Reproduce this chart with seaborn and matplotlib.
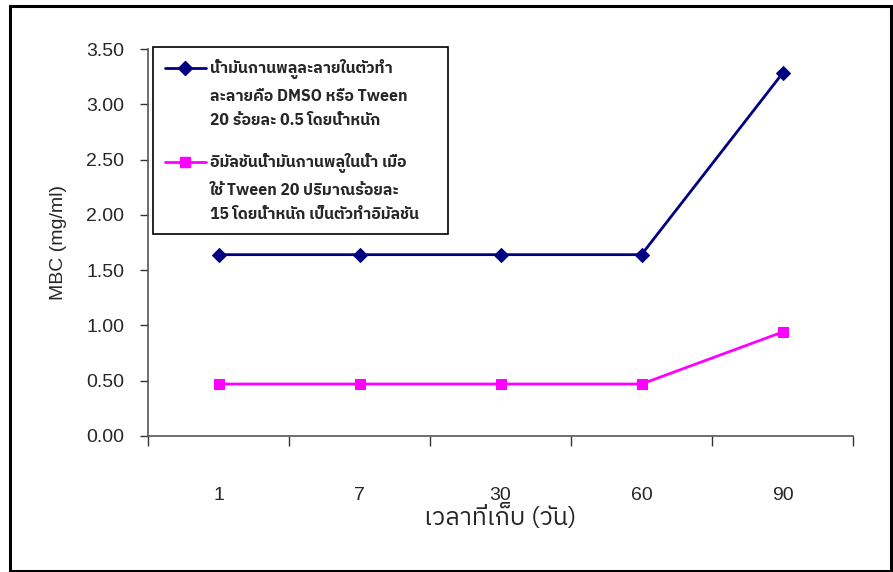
import matplotlib
matplotlib.use("Agg")
import matplotlib.pyplot as plt
from matplotlib import font_manager
from matplotlib.lines import Line2D
from matplotlib.patches import Rectangle
from matplotlib.ticker import FixedLocator, FormatStrFormatter
import seaborn as sns
import pandas as pd

# storage time (days) and MBC values
days = ["1", "7", "30", "60", "90"]
mbc_dmso = [1.64, 1.64, 1.64, 1.64, 3.28]
mbc_emulsion = [0.47, 0.47, 0.47, 0.47, 0.94]

label_dmso = ["น้ำมันกานพลูละลายในตัวทำ", "ละลายคือ DMSO หรือ Tween", "20 ร้อยละ 0.5 โดยน้ำหนัก"]
label_emulsion = ["อิมัลชันน้ำมันกานพลูในน้ำ เมื่อ", "ใช้ Tween 20 ปริมาณร้อยละ", "15 โดยน้ำหนัก เป็นตัวทำอิมัลชัน"]
y_label = "MBC (mg/ml)"
x_label = "เวลาที่เก็บ (วัน)"
y_ticks = [0.0, 0.5, 1.0, 1.5, 2.0, 2.5, 3.0, 3.5]


def thai_family(fallback="DejaVu Sans"):
    """Return the first installed family that has Thai glyphs."""
    try:
        from fontTools.ttLib import TTFont
    except Exception:
        return fallback
    names = sorted({(f.name, f.fname) for f in font_manager.fontManager.ttflist},
                   key=lambda t: ("Thai" not in t[0], t[0]))
    for name, path in names:
        try:
            font = TTFont(path, fontNumber=0, lazy=True)
            cmap = font.getBestCmap() or {}
        except Exception:
            continue
        if 0x0E01 in cmap and 0x0E49 in cmap:
            return name
    return fallback


def has_family(name):
    return any(f.name == name for f in font_manager.fontManager.ttflist)


sns.set_theme(style="white")
thai = thai_family()
plt.rcParams["font.family"] = ["Liberation Sans", thai, "DejaVu Sans"]
narrow = "Liberation Sans Narrow" if has_family("Liberation Sans Narrow") else "Liberation Sans"

df = pd.DataFrame({"day": days, "dmso": mbc_dmso, "emulsion": mbc_emulsion})

fig = plt.figure(figsize=(8.93, 5.72), dpi=100)
ax = fig.add_axes([148 / 893, 1 - 436 / 572, 705 / 893, 387 / 572])

navy = "#000080"
magenta = "#FF00FF"
sns.lineplot(data=df, x="day", y="dmso", ax=ax, color=navy, linewidth=2.0,
             marker="D", markersize=7, markeredgecolor=navy, sort=False)
sns.lineplot(data=df, x="day", y="emulsion", ax=ax, color=magenta, linewidth=2.0,
             marker="s", markersize=7, markeredgecolor=magenta, sort=False)

ax.set_xlim(-0.5, len(days) - 0.5)
ax.set_ylim(0, 3.5)

# y axis
ax.yaxis.set_major_locator(FixedLocator(y_ticks))
ax.yaxis.set_major_formatter(FormatStrFormatter("%.2f"))
ax.tick_params(axis="y", which="major", left=True, length=6, width=1,
               color="#333333", labelsize=14, pad=11, direction="out")
ax.set_ylabel(y_label, fontsize=14, labelpad=14)

# x axis: tick marks on category boundaries, labels at category centres
ax.xaxis.set_major_locator(FixedLocator([i + 0.5 for i in range(-1, len(days))]))
ax.xaxis.set_minor_locator(FixedLocator(list(range(len(days)))))
ax.set_xticklabels([], minor=False)
ax.set_xticklabels(days, minor=True, fontsize=14, family=narrow)
ax.tick_params(axis="x", which="major", bottom=True, length=7, width=1,
               color="#333333", direction="out")
ax.tick_params(axis="x", which="minor", bottom=True, length=0, pad=37)
ax.set_xlabel(x_label, fontsize=18, family=[thai, "DejaVu Sans"], labelpad=0)

for side in ("top", "right"):
    ax.spines[side].set_visible(False)
for side in ("left", "bottom"):
    ax.spines[side].set_color("#555555")
    ax.spines[side].set_linewidth(1.2)
ax.grid(False)

# legend: marker beside the first line of each entry; the last line of the
# first entry carries a trailing empty line that separates the two entries
blank = Line2D([], [], linestyle="none")
handles = [
    Line2D([], [], color=navy, marker="D", markersize=7, linewidth=2.0),
    blank, blank,
    Line2D([], [], color=magenta, marker="s", markersize=7, linewidth=2.0),
    blank, blank,
]
labels = label_dmso[:2] + [label_dmso[2] + "\n"] + label_emulsion
leg = ax.legend(handles, labels, loc="upper left", mode="expand",
                bbox_to_anchor=(153 / 893, 1 - 232 / 572, 295 / 893, 185 / 572),
                bbox_transform=fig.transFigure,
                frameon=True, fancybox=False, edgecolor="black", framealpha=1,
                prop={"family": [thai, "DejaVu Sans"], "weight": "bold", "size": 11.3},
                handlelength=2.6, handleheight=0.4, handletextpad=0.3,
                labelspacing=0.62, borderpad=0.75, borderaxespad=0)
leg.get_frame().set_linewidth(1.2)
leg.get_texts()[2].set_linespacing(1.0)

# outer frame around the whole figure
fig.patches.append(Rectangle((10 / 893, 1 / 572), 881 / 893, 565 / 572,
                             transform=fig.transFigure, fill=False,
                             edgecolor="black", linewidth=2.2))

fig.savefig("out.png", dpi=100)
